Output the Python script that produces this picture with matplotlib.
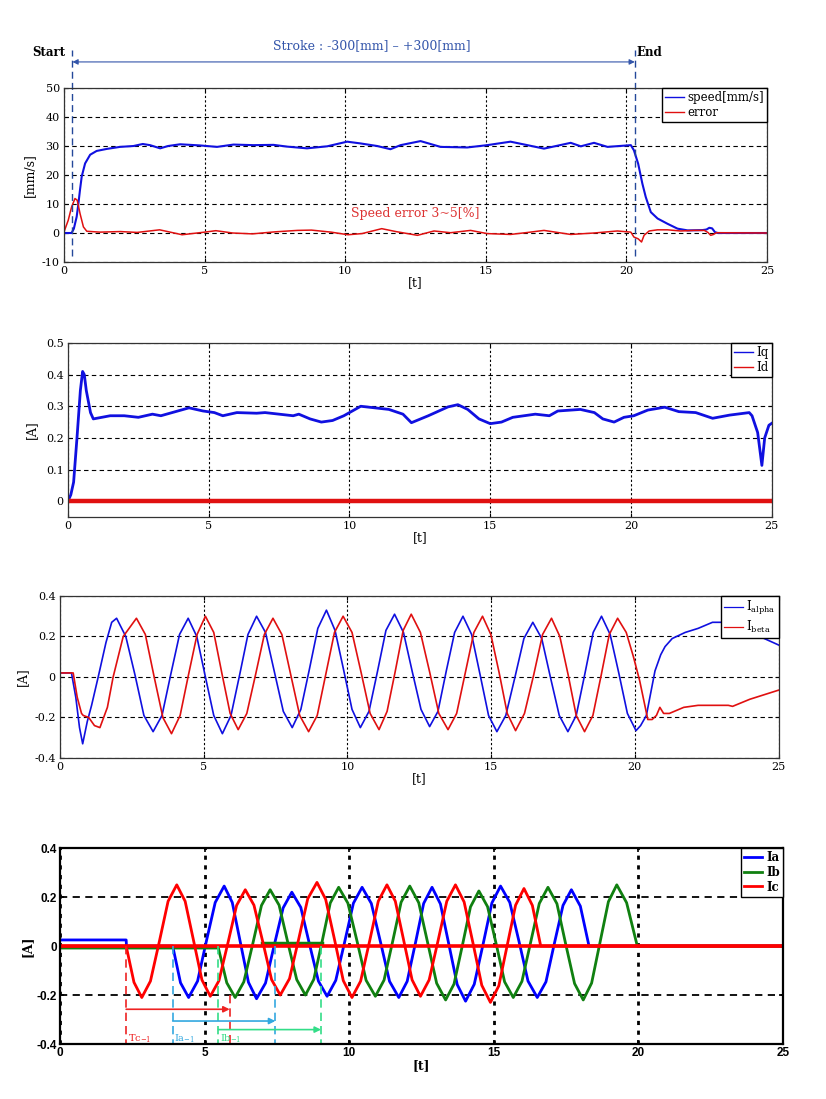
#Linear motor test: speed, dq currents, alpha/beta currents and phase currents
#values
import matplotlib
matplotlib.use('Agg')
import matplotlib.pyplot as plt

plt.rcParams['font.family'] = 'DejaVu Serif'
plt.rcParams['mathtext.fontset'] = 'dejavuserif'
plt.rcParams['axes.unicode_minus'] = False

#---- panel 1 : speed and speed error ----
speed_t = [0, 0.27, 0.35, 0.45, 0.51, 0.57, 0.63, 0.75, 0.93, 1.16,
           1.52, 1.99, 2.47, 2.8, 3.06, 3.42, 3.7, 4.13, 4.84, 5.44,
           6.03, 6.74, 7.45, 7.93, 8.64, 9.36, 10.07, 10.54, 11.14, 11.61,
           11.97, 12.68, 13.39, 14.34, 15.05, 15.88, 16.48, 17.07, 18.02, 18.38,
           18.85, 19.33, 20.16, 20.27, 20.42, 20.57, 20.69, 20.87, 21.11, 21.46,
           21.82, 22.18, 22.7, 22.85, 22.95, 23.05, 23.15, 23.25, 25.0]
speed_v = [0, 0, 1.5, 5.6, 10, 15, 19.5, 24, 27, 28.3,
           29, 29.7, 30, 30.7, 30.3, 29.2, 30.0, 30.6, 30.2, 29.7,
           30.5, 30.3, 30.4, 29.8, 29.2, 29.9, 31.5, 30.9, 30.0, 28.9,
           30.3, 31.7, 29.7, 29.5, 30.3, 31.5, 30.3, 29.1, 31.1, 29.9,
           31.1, 29.7, 30.3, 28.5, 23.9, 17.0, 12.4, 7.2, 5.0, 3.2,
           1.5, 0.9, 1.0, 1.2, 1.8, 1.6, 0.3, 0.0, 0.0]
err_t = [0, 0.15, 0.27, 0.39, 0.47, 0.57, 0.69, 0.81, 1.28, 2.0,
         2.6, 3.4, 4.2, 5.0, 5.4, 6.0, 6.7, 7.5, 8.3, 8.8,
         9.5, 10.1, 10.6, 11.3, 11.8, 12.57, 13.16, 13.75, 14.46, 15.05,
         15.88, 16.5, 17.07, 18.02, 18.85, 19.68, 20.16, 20.27, 20.42, 20.54,
         20.63, 20.81, 21.11, 21.46, 21.93, 22.41, 22.77, 22.9, 23.0, 23.1,
         23.2, 25.0]
err_v = [0.4, 4.4, 9.0, 11.9, 11.3, 6.7, 2.1, 0.6, 0.3, 0.5,
         0.2, 1.1, -0.6, 0.3, 0.8, 0.0, -0.3, 0.4, 0.9, 1.0,
         0.3, -0.6, -0.2, 1.5, 0.5, -0.8, 0.7, 0.1, 0.9, -0.2,
         -0.5, 0.2, 0.9, -0.5, 0.0, 0.7, 0.3, -1.4, -2.0, -3.1,
         -0.8, 0.7, 1.1, 1.1, 0.7, 0.9, 0.9, 0.2, -0.8, -0.5,
         0.1, 0.0]
stroke_start = 0.3
stroke_end = 20.3

#---- panel 2 : Iq / Id ----
iq_t = [0, 0.1, 0.2, 0.32, 0.44, 0.52, 0.58, 0.65, 0.8, 0.9,
        1.2, 1.5, 2.0, 2.5, 3.0, 3.3, 3.7, 4.1, 4.3, 4.8,
        5.2, 5.5, 6.0, 6.7, 7.0, 7.5, 8.0, 8.2, 8.6, 9.0,
        9.4, 9.8, 10.1, 10.4, 10.9, 11.4, 11.9, 12.2, 12.8, 13.5,
        13.85, 14.2, 14.6, 15.0, 15.4, 15.8, 16.6, 17.1, 17.4, 18.2,
        18.7, 19.0, 19.4, 19.75, 20.1, 20.6, 21.2, 21.7, 22.3, 22.9,
        23.5, 24.2, 24.3, 24.5, 24.65, 24.75, 24.9, 25.0]
iq_v = [0, 0.02, 0.06, 0.2, 0.35, 0.41, 0.4, 0.35, 0.28, 0.26,
        0.265, 0.27, 0.27, 0.265, 0.275, 0.27, 0.28, 0.29, 0.295, 0.285,
        0.28, 0.27, 0.28, 0.278, 0.28, 0.275, 0.27, 0.275, 0.26, 0.25,
        0.255, 0.27, 0.285, 0.30, 0.295, 0.29, 0.275, 0.248, 0.27, 0.298,
        0.305, 0.29, 0.26, 0.245, 0.25, 0.265, 0.275, 0.27, 0.285, 0.29,
        0.28, 0.26, 0.25, 0.265, 0.27, 0.288, 0.297, 0.283, 0.28, 0.262,
        0.272, 0.28, 0.27, 0.217, 0.113, 0.2, 0.24, 0.246]
id_t = [0, 25]
id_v = [0, 0]

#---- panel 3 : I alpha / I beta ----
ialpha_t = [0, 0.4, 0.55, 0.68, 0.79, 0.95, 1.1, 1.33, 1.6, 1.8, 1.97,
            2.29, 2.61, 2.92, 3.24,
            3.55, 3.85, 4.16, 4.46,
            4.76, 5.06, 5.35, 5.65,
            5.95, 6.25, 6.54, 6.84,
            7.15, 7.46, 7.77, 8.08,
            8.38, 8.68, 8.97, 9.27,
            9.57, 9.86, 10.16, 10.45,
            10.75, 11.05, 11.34, 11.64,
            11.95, 12.25, 12.56, 12.86,
            13.15, 13.44, 13.73, 14.02,
            14.32, 14.61, 14.91, 15.2,
            15.51, 15.83, 16.14, 16.45,
            16.76, 17.06, 17.37, 17.67,
            17.96, 18.26, 18.55, 18.84,
            19.14, 19.44, 19.74, 20.04,
            20.2, 20.4, 20.55, 20.7, 20.9, 21.05, 21.3, 21.75, 22.2, 22.7,
            23.3, 23.7, 24.0, 24.5, 25.0]
ialpha_v = [0.02, 0.02, -0.1, -0.25, -0.33, -0.22, -0.14, 0.0, 0.17, 0.27, 0.29,
            0.2, 0.01, -0.19, -0.27,
            -0.19, 0.01, 0.21, 0.29,
            0.2, 0.0, -0.19, -0.28,
            -0.19, 0.01, 0.21, 0.30,
            0.22, 0.025, -0.17, -0.25,
            -0.16, 0.04, 0.24, 0.33,
            0.23, 0.04, -0.16, -0.25,
            -0.17, 0.03, 0.23, 0.31,
            0.22, 0.03, -0.16, -0.245,
            -0.17, 0.03, 0.22, 0.30,
            0.21, 0.015, -0.19, -0.27,
            -0.19, 0.0, 0.19, 0.27,
            0.19, 0.0, -0.19, -0.27,
            -0.19, 0.015, 0.22, 0.30,
            0.21, 0.02, -0.18, -0.265,
            -0.24, -0.19, -0.08, 0.03, 0.11, 0.15, 0.19, 0.22, 0.24, 0.27,
            0.27, 0.25, 0.225, 0.19, 0.158]
ibeta_t = [0, 0.46, 0.6, 0.75, 0.81, 1.0, 1.2, 1.39, 1.65, 1.85, 2.2, 2.66,
           2.97, 3.27, 3.58, 3.88,
           4.18, 4.47, 4.77, 5.06,
           5.35, 5.63, 5.92, 6.2,
           6.5, 6.81, 7.11, 7.41,
           7.72, 8.03, 8.34, 8.65,
           8.95, 9.25, 9.55, 9.85,
           10.16, 10.48, 10.79, 11.1,
           11.38, 11.66, 11.94, 12.22,
           12.54, 12.86, 13.18, 13.5,
           13.8, 14.1, 14.4, 14.7,
           14.99, 15.28, 15.56, 15.85,
           16.16, 16.48, 16.79, 17.1,
           17.39, 17.68, 17.96, 18.25,
           18.54, 18.83, 19.11, 19.4,
           19.7, 19.95, 20.17, 20.45, 20.6, 20.75, 20.87, 21.0, 21.2, 21.7,
           22.2, 23.25, 23.4, 24.0, 25.0]
ibeta_v = [0.02, 0.02, -0.1, -0.18, -0.19, -0.2, -0.24, -0.25, -0.15, 0.0, 0.2, 0.29,
           0.21, 0.005, -0.2, -0.28,
           -0.19, 0.01, 0.21, 0.30,
           0.22, 0.02, -0.18, -0.26,
           -0.18, 0.015, 0.21, 0.29,
           0.21, 0.01, -0.19, -0.27,
           -0.19, 0.015, 0.22, 0.30,
           0.22, 0.02, -0.18, -0.26,
           -0.17, 0.025, 0.23, 0.31,
           0.22, 0.025, -0.18, -0.26,
           -0.18, 0.02, 0.22, 0.30,
           0.21, 0.02, -0.18, -0.265,
           -0.18, 0.01, 0.21, 0.29,
           0.2, 0.01, -0.19, -0.27,
           -0.19, 0.01, 0.21, 0.29,
           0.22, 0.1, -0.02, -0.21, -0.21, -0.19, -0.15, -0.18, -0.18, -0.15,
           -0.14, -0.14, -0.145, -0.11, -0.065]

#---- panel 4 : phase currents Ia, Ib, Ic ----
ia_t = [0, 2.29, 2.3, 3.9, 4.17, 4.45,
        4.76, 5.06, 5.37, 5.68,
        5.96, 6.24, 6.52, 6.8,
        7.11, 7.41, 7.72, 8.02,
        8.33, 8.63, 8.94, 9.24,
        9.54, 9.85, 10.15, 10.45,
        10.77, 11.09, 11.4, 11.72,
        12.01, 12.3, 12.58, 12.87,
        13.16, 13.45, 13.74, 14.03,
        14.33, 14.64, 14.94, 15.24,
        15.56, 15.88, 16.19, 16.51,
        16.81, 17.1, 17.4, 17.69,
        18.0, 18.3, 25.0]
ia_v = [0.025, 0.025, 0.0, 0.0, -0.15, -0.21,
        -0.143, 0.018, 0.178, 0.245,
        0.178, 0.015, -0.148, -0.215,
        -0.151, 0.003, 0.156, 0.22,
        0.158, 0.008, -0.143, -0.205,
        -0.14, 0.018, 0.175, 0.24,
        0.174, 0.015, -0.144, -0.21,
        -0.144, 0.015, 0.174, 0.24,
        0.172, 0.008, -0.157, -0.225,
        -0.156, 0.01, 0.176, 0.245,
        0.178, 0.018, -0.143, -0.21,
        -0.146, 0.01, 0.166, 0.23,
        0.163, 0.0, 0.0]
ib_t = [0, 5.48, 5.77, 6.06,
        6.36, 6.67, 6.97, 7.27,
        7.58, 7.88, 8.19, 8.49,
        8.78, 9.07, 9.35, 9.64,
        9.96, 10.28, 10.59, 10.91,
        11.21, 11.51, 11.8, 12.1,
        12.41, 12.72, 13.03, 13.34,
        13.63, 13.92, 14.2, 14.49,
        14.79, 15.09, 15.38, 15.68,
        15.98, 16.28, 16.58, 16.88,
        17.19, 17.49, 17.8, 18.1,
        18.39, 18.68, 18.97, 19.26,
        19.6, 19.97, 25.0]
ib_v = [-0.008, -0.008, -0.15, -0.21,
        -0.146, 0.01, 0.166, 0.23,
        0.167, 0.015, -0.137, -0.2,
        -0.136, 0.02, 0.176, 0.24,
        0.175, 0.018, -0.14, -0.205,
        -0.139, 0.02, 0.179, 0.245,
        0.177, 0.013, -0.152, -0.22,
        -0.155, 0.003, 0.16, 0.225,
        0.161, 0.008, -0.146, -0.21,
        -0.144, 0.015, 0.174, 0.24,
        0.173, 0.01, -0.153, -0.22,
        -0.151, 0.015, 0.181, 0.25,
        0.177, 0.0, 0.0]
ib_flat_t = [7.0, 9.05]
ib_flat_v = [0.012, 0.012]
ic_t = [0, 2.29, 2.56, 2.83,
        3.13, 3.44, 3.74, 4.04,
        4.33, 4.62, 4.91, 5.2,
        5.5, 5.81, 6.11, 6.41,
        6.71, 7.02, 7.32, 7.62,
        7.94, 8.26, 8.57, 8.89,
        9.19, 9.5, 9.8, 10.1,
        10.4, 10.71, 11.01, 11.31,
        11.6, 11.89, 12.18, 12.47,
        12.77, 13.08, 13.38, 13.68,
        13.98, 14.29, 14.59, 14.89,
        15.18, 15.47, 15.76, 16.05,
        16.34, 16.63, 25.0]
ic_v = [0, 0, -0.148, -0.21,
        -0.143, 0.02, 0.183, 0.25,
        0.183, 0.023, -0.138, -0.205,
        -0.141, 0.013, 0.166, 0.23,
        0.167, 0.015, -0.137, -0.2,
        -0.133, 0.03, 0.193, 0.26,
        0.191, 0.025, -0.141, -0.21,
        -0.143, 0.02, 0.183, 0.25,
        0.183, 0.023, -0.138, -0.205,
        -0.138, 0.023, 0.183, 0.25,
        0.18, 0.01, -0.16, -0.23,
        -0.162, 0.003, 0.167, 0.235,
        0.166, 0.0, 0.0]
ic_flat_t = [0, 25]
ic_flat_v = [0, 0]
#period markers (start, end), arrow level, label
tc_mark = [2.29, 5.87]
ia_mark = [3.9, 7.45]
ib_mark = [5.48, 9.03]
mark_levels = [-0.258, -0.306, -0.341]
mark_labels = ['Tc$_{-1}$', 'Ia$_{-1}$', 'Ib$_{-1}$']

xticks = [0, 5, 10, 15, 20, 25]

BLUE = '#1010e0'
RED = '#e01010'


def style(ax, yticks, ylabels, ylim, heavy=False):
    ax.set_xlim(0, 25)
    ax.set_ylim(*ylim)
    ax.set_xticks(xticks)
    ax.set_yticks(yticks)
    ax.set_yticklabels(ylabels)
    ax.set_axisbelow(True)
    if heavy:
        ax.tick_params(direction='in', top=True, right=True, length=3, width=1.2,
                       labelsize=8.5, pad=2)
        for lab in ax.get_xticklabels() + ax.get_yticklabels():
            lab.set_fontfamily('Liberation Sans')
            lab.set_fontweight('bold')
        ax.xaxis.grid(True, color='k', linestyle=(0, (1.5, 2)), lw=2.0)
        ax.yaxis.grid(True, color='k', linestyle=(0, (4, 3)), lw=1.3)
        for s in ax.spines.values():
            s.set_linewidth(1.6)
    else:
        ax.tick_params(direction='in', top=True, right=True, length=3,
                       labelsize=8, pad=3)
        ax.xaxis.grid(True, color='k', linestyle=(0, (2, 2)), lw=0.8)
        ax.yaxis.grid(True, color='k', linestyle=(0, (4, 3)), lw=0.8)
        for s in ax.spines.values():
            s.set_linewidth(0.9)
            s.set_color('#333333')


def legend(ax, size=8, lw=None, bold=False):
    lg = ax.legend(loc='upper right', bbox_to_anchor=(1, 1), borderaxespad=0,
                   fancybox=False, edgecolor='k', framealpha=1, fontsize=size,
                   handlelength=1.6, handletextpad=0.3, borderpad=0.25,
                   labelspacing=0.15)
    lg.get_frame().set_linewidth(1.0)
    if lw is not None:
        for h in lg.get_lines():
            h.set_linewidth(lw)
    if bold:
        for t in lg.get_texts():
            t.set_fontweight('bold')
    return lg


fig = plt.figure(figsize=(8.26, 10.99), dpi=100)
ax1 = fig.add_axes([0.0775, 0.7616, 0.851, 0.1583])
ax2 = fig.add_axes([0.0823, 0.5296, 0.852, 0.1583])
ax3 = fig.add_axes([0.0726, 0.3103, 0.870, 0.1474])
ax4 = fig.add_axes([0.0726, 0.0500, 0.875, 0.1783])

#panel 1
style(ax1, [-10, 0, 10, 20, 30, 40, 50], ['-10', '0', '10', '20', '30', '40', '50'], (-10, 50))
ax1.plot(speed_t, speed_v, color=BLUE, lw=1.5, label='speed[mm/s]')
ax1.plot(err_t, err_v, color=RED, lw=1.1, label='error')
legend(ax1, size=8.5, lw=1.0)
ax1.set_ylabel('[mm/s]', fontsize=9, labelpad=4)
ax1.set_xlabel('[t]', fontsize=9, labelpad=0)
ax1.text(10.2, 6.6, 'Speed error 3~5[%]', color='#dd3333', fontsize=9, va='center')
for xs in (stroke_start, stroke_end):
    ax1.plot([xs, xs], [-8, 63], color='#24489a', lw=1.0, ls=(0, (5, 3)), clip_on=False)
ax1.annotate('', xy=(stroke_end, 59), xytext=(stroke_start, 59),
             arrowprops=dict(arrowstyle='<|-|>', color='#3355aa', lw=0.8,
                             mutation_scale=8, shrinkA=0, shrinkB=0),
             annotation_clip=False)
ax1.text(10.93, 64.5, 'Stroke : -300[mm] \u2013 +300[mm]', color='#3355aa', fontsize=9,
         ha='center', va='center')
ax1.text(0.05, 62.4, 'Start', fontsize=8.5, ha='right', va='center', fontweight='bold')
ax1.text(stroke_end + 0.05, 62.4, 'End', fontsize=8.5, ha='left', va='center', fontweight='bold')

#panel 2
style(ax2, [0, 0.1, 0.2, 0.3, 0.4, 0.5], ['0', '0.1', '0.2', '0.3', '0.4', '0.5'], (-0.05, 0.5))
ax2.plot(iq_t, iq_v, color=BLUE, lw=2.0, label='Iq')
ax2.plot(id_t, id_v, color=RED, lw=3.2, label='Id')
legend(ax2, size=8.5, lw=1.0)
ax2.set_ylabel('[A]', fontsize=9, labelpad=6)
ax2.set_xlabel('[t]', fontsize=9, labelpad=0)

#panel 3
style(ax3, [-0.4, -0.2, 0, 0.2, 0.4], ['-0.4', '-0.2', '0', '0.2', '0.4'], (-0.4, 0.4))
ax3.plot(ialpha_t, ialpha_v, color=BLUE, lw=1.2, label='I$_{\\mathrm{alpha}}$')
ax3.plot(ibeta_t, ibeta_v, color=RED, lw=1.2, label='I$_{\\mathrm{beta}}$')
legend(ax3, size=8.5, lw=0.9)
ax3.set_ylabel('[A]', fontsize=9, labelpad=4)
ax3.set_xlabel('[t]', fontsize=9, labelpad=0)

#panel 4
style(ax4, [-0.4, -0.2, 0, 0.2, 0.4], ['-0.4', '-0.2', '0', '0.2', '0.4'], (-0.4, 0.4), heavy=True)
ax4.plot(ia_t, ia_v, color='#0000ff', lw=2.0, label='Ia')
ax4.plot(ib_t, ib_v, color='#108010', lw=2.0, label='Ib')
ax4.plot(ib_flat_t, ib_flat_v, color='#108010', lw=2.5)
ax4.plot(ic_flat_t, ic_flat_v, color='#ff0000', lw=2.6)
ax4.plot(ic_t, ic_v, color='#ff0000', lw=2.0, label='Ic')
legend(ax4, size=8.5, lw=2.0, bold=True)
ax4.set_ylabel('[A]', fontsize=9, fontweight='bold', labelpad=2)
ax4.set_xlabel('[t]', fontsize=9, fontweight='bold', labelpad=0)

mark_colors = ['#ee2222', '#33a8e0', '#33dd88']
mark_tops = [[0, -0.2], [0, 0], [0, 0]]
for mk, lev, lab, col, tops in zip([tc_mark, ia_mark, ib_mark], mark_levels, mark_labels,
                                   mark_colors, mark_tops):
    for xv, top in zip(mk, tops):
        ax4.plot([xv, xv], [top, -0.4], color=col, lw=1.2, ls=(0, (5, 3)))
    ax4.annotate('', xy=(mk[1], lev), xytext=(mk[0], lev),
                 arrowprops=dict(arrowstyle='-|>', color=col, lw=1.2,
                                 mutation_scale=9, shrinkA=0, shrinkB=0))
    ax4.text(mk[0] + 0.05, -0.38, lab, color=col, fontsize=7, ha='left', va='center')

fig.savefig('out.png', dpi=100)
